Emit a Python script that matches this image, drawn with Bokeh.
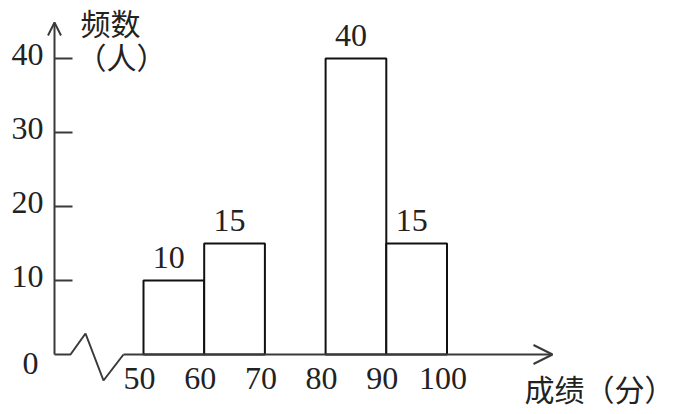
from bokeh.plotting import figure
from bokeh.models import ColumnDataSource, Arrow, OpenHead
from bokeh.core.properties import value
from bokeh.embed import file_html
from bokeh.resources import INLINE

# ---- data ----
bin_left = [50, 60, 80, 90]
bin_right = [60, 70, 90, 100]
counts = [10, 15, 40, 15]
x_ticks = [50, 60, 70, 80, 90, 100]
x_tick_labels = ["50", "60", "70", "80", "90", "100"]
y_ticks = [10, 20, 30, 40]
y_tick_labels = ["10", "20", "30", "40"]
y_title_1 = "频数"
y_title_2 = "（人）"
x_title = "成绩（分）"
origin_label = "0"

# ---- scale (pixels per data unit) ----
SX = 6.07
SY = 7.4
def dx(px):
    return px / SX
def dy(px):
    return px / SY

W, H = 677, 414
x_lo = 50 - dx(143)
x_hi = x_lo + dx(W)
y_hi = dy(354)
y_lo = y_hi - dy(H)

p = figure(width=W, height=H, x_range=(x_lo, x_hi), y_range=(y_lo, y_hi),
           min_border=0, toolbar_location=None, output_backend="svg",
           x_axis_location=None, y_axis_location=None)
p.grid.visible = False
p.outline_line_color = None
p.background_fill_color = "white"

AX = "#3a3a3a"
axis_x = 50 - dx(89)
y_tip = dy(332)
x_tip = 50 + dx(409)

# broken x baseline (zigzag)
zx = [axis_x + dx(v) for v in (0, 16, 31, 49, 69)]
zy = [dy(v) for v in (0, 0, 21, -26, 0)]
p.line(zx, zy, line_color=AX, line_width=2)

# axes with arrows
p.add_layout(Arrow(end=OpenHead(size=13, line_width=2, line_color=AX),
                   x_start=axis_x, y_start=0, x_end=axis_x, y_end=y_tip,
                   line_width=2, line_color=AX))
p.add_layout(Arrow(end=OpenHead(size=19, line_width=2, line_color=AX),
                   x_start=zx[-1], y_start=0, x_end=x_tip, y_end=0,
                   line_width=2, line_color=AX))

# y ticks (inward)
p.ray(x=[axis_x] * len(y_ticks), y=y_ticks, length=18, length_units="screen",
      angle=0, line_color=AX, line_width=2)

# bars
src = ColumnDataSource(dict(left=bin_left, right=bin_right, top=counts,
                            mid=[(a + b) / 2 for a, b in zip(bin_left, bin_right)],
                            lab=[str(c) for c in counts]))
p.quad(left="left", right="right", top="top", bottom=0, source=src,
       fill_color="white", line_color="#111111", line_width=2)

NUMF = value("Liberation Serif")
CJKF = value("Noto Sans CJK SC")
TC = "#222222"

p.text(x="mid", y="top", text="lab", source=src, text_font=NUMF,
       text_font_size="32px", text_align="center", text_baseline="alphabetic",
       x_offset=-5, y_offset=-23, text_color=TC)

# tick labels
p.text(x=[axis_x] * len(y_ticks), y=y_ticks, text=y_tick_labels, text_font=NUMF,
       text_font_size="32px", text_align="right", text_baseline="alphabetic",
       x_offset=-11, y_offset=-4, text_color=TC)
p.text(x=[axis_x], y=[0], text=[origin_label], text_font=NUMF,
       text_font_size="32px", text_align="right", text_baseline="alphabetic",
       x_offset=-16, y_offset=9, text_color=TC)
p.text(x=x_ticks, y=[0] * len(x_ticks), text=x_tick_labels, text_font=NUMF,
       text_font_size="32px", text_align="center", text_baseline="alphabetic",
       x_offset=-4, y_offset=24, text_color=TC)

# axis titles
p.text(x=[axis_x], y=[y_tip], text=[y_title_1], text_font=CJKF,
       text_font_size="30px", text_align="left", text_baseline="alphabetic",
       x_offset=26, y_offset=-1, text_color=TC)
p.text(x=[axis_x], y=[y_tip], text=[y_title_2], text_font=CJKF,
       text_font_size="30px", text_align="left", text_baseline="alphabetic",
       x_offset=22, y_offset=33, text_color=TC)
p.text(x=[x_tip], y=[0], text=[x_title], text_font=CJKF,
       text_font_size="30px", text_align="left", text_baseline="alphabetic",
       x_offset=-28, y_offset=33, text_color=TC)

open("out.html", "w").write(file_html(p, INLINE))
